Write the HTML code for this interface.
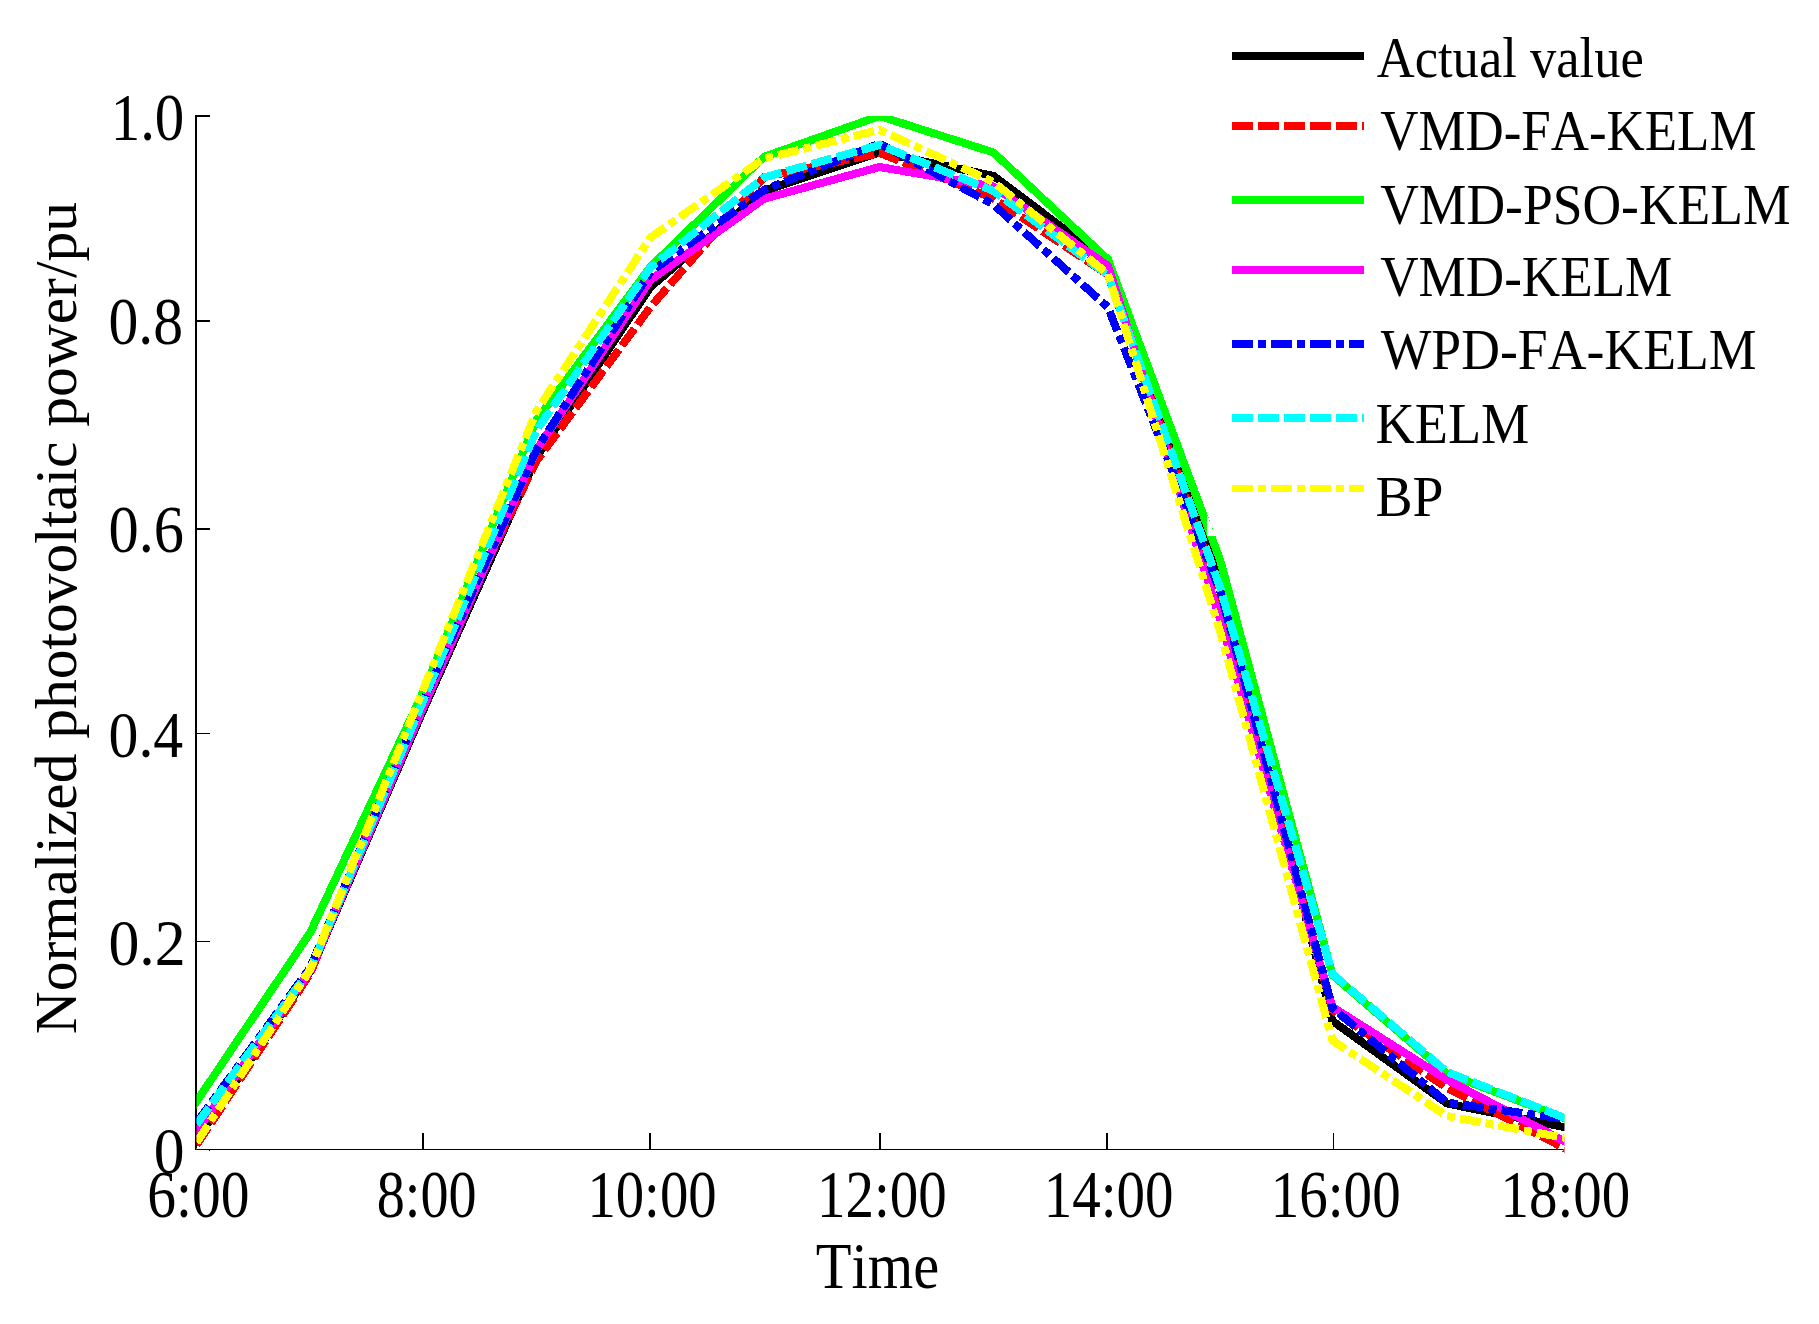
<!DOCTYPE html>
<html lang="en"><head><meta charset="utf-8"><title>Normalized photovoltaic power</title>
<style>html,body{margin:0;padding:0;background:#fff}svg{display:block}text{font-family:"Liberation Serif",serif;fill:#000;font-kerning:none}</style>
</head><body>
<svg width="1819" height="1324" viewBox="0 0 1819 1324">
<rect width="1819" height="1324" fill="#fff"/>
<defs><clipPath id="plotclip"><rect x="196.5" y="116" width="1204" height="1033.5"/><rect x="1400" y="116" width="164.5" height="1040"/></clipPath></defs>
<g shape-rendering="crispEdges" fill="#000">
<rect x="195" y="115" width="2" height="1035"/>
<rect x="195" y="1149" width="1369" height="1"/>
<rect x="197" y="115" width="13" height="2"/>
<rect x="197" y="320" width="13" height="2"/>
<rect x="197" y="528" width="13" height="2"/>
<rect x="197" y="733" width="13" height="1"/>
<rect x="197" y="941" width="13" height="1"/>
<rect x="422" y="1133" width="2" height="16"/>
<rect x="649" y="1133" width="2" height="16"/>
<rect x="879" y="1133" width="2" height="16"/>
<rect x="1106" y="1133" width="2" height="16"/>
<rect x="1333" y="1133" width="1" height="16"/>
<rect x="209" y="1150" width="1" height="1"/>
</g>
<g fill="none" shape-rendering="crispEdges" stroke-linejoin="miter" stroke-miterlimit="10">
<g clip-path="url(#plotclip)">
<polyline points="184.5,1157.8 196.5,1140.0 310.0,972.0 422.7,711.5 536.5,457.0 650.5,287.0 764.0,190.8 879.5,152.3 993.5,175.9 1108.0,262.0 1220.3,585.0 1332.5,1021.0 1447.0,1103.5 1565.0,1127.3 1577.0,1129.7" stroke="#000" stroke-width="8"/>
<polyline points="184.5,1163.1 196.5,1145.0 310.0,974.0 422.7,694.0 536.5,461.0 650.5,307.0 764.0,177.2 879.5,153.0 993.5,198.5 1108.0,275.0 1220.3,596.0 1332.5,1010.0 1447.0,1088.0 1565.0,1148.4 1577.0,1154.5" stroke="#f00" stroke-width="8" stroke-dasharray="21 5" stroke-dashoffset="4.30"/>
<polyline points="184.5,1119.3 196.5,1101.5 310.0,933.0 422.7,693.0 536.5,420.0 650.5,266.8 764.0,156.8 879.5,116.0 993.5,152.5 1108.0,259.5 1220.3,560.5 1332.5,975.0 1447.0,1073.5 1565.0,1118.5 1577.0,1123.1" stroke="#0f0" stroke-width="8"/>
<polygon points="1206.6,513.5 1206.6,536 1215.4,536" fill="#fff" stroke="none"/>
<polyline points="184.5,1148.5 196.5,1131.5 310.0,971.0 422.7,708.5 536.5,450.0 650.5,280.0 764.0,198.8 879.5,167.0 993.5,186.5 1108.0,265.8 1220.3,620.0 1332.5,1007.0 1447.0,1079.7 1565.0,1141.6 1577.0,1147.9" stroke="#f0f" stroke-width="8"/>
<polyline points="184.5,1139.4 196.5,1123.0 310.0,968.0 422.7,702.0 536.5,449.5 650.5,272.0 764.0,190.0 879.5,143.5 993.5,204.6 1108.0,307.3 1220.3,592.0 1332.5,1008.0 1447.0,1102.5 1565.0,1119.0 1577.0,1120.7" stroke="#00f" stroke-width="8" stroke-dasharray="21 5 8 5" stroke-dashoffset="18.69"/>
<polyline points="184.5,1140.8 196.5,1124.5 310.0,970.0 422.7,702.0 536.5,430.0 650.5,267.5 764.0,177.5 879.5,145.0 993.5,191.0 1108.0,275.0 1220.3,588.0 1332.5,974.0 1447.0,1072.0 1565.0,1118.0 1577.0,1122.7" stroke="#0ff" stroke-width="8" stroke-dasharray="21 5" stroke-dashoffset="5.73"/>
<polyline points="184.5,1160.7 196.5,1142.5 310.0,970.0 422.7,690.5 536.5,411.0 650.5,237.4 764.0,158.5 879.5,129.7 993.5,182.0 1108.0,274.0 1220.3,632.0 1332.5,1040.5 1447.0,1116.0 1565.0,1137.9 1577.0,1140.1" stroke="#ff0" stroke-width="8" stroke-dasharray="21 5 8 5" stroke-dashoffset="17.17"/>
</g>
</g>
<g fill="none" shape-rendering="crispEdges">
<line x1="1232" y1="55.9" x2="1364" y2="55.9" stroke="#000" stroke-width="8"/>
<line x1="1232" y1="126" x2="1364" y2="126" stroke="#f00" stroke-width="8" stroke-dasharray="21 5"/>
<line x1="1232" y1="199.9" x2="1364" y2="199.9" stroke="#0f0" stroke-width="8"/>
<line x1="1232" y1="270" x2="1364" y2="270" stroke="#f0f" stroke-width="8"/>
<line x1="1232" y1="344" x2="1364" y2="344" stroke="#00f" stroke-width="8" stroke-dasharray="21 5 8 5"/>
<line x1="1232" y1="418" x2="1364" y2="418" stroke="#0ff" stroke-width="8" stroke-dasharray="21 5"/>
<line x1="1232" y1="488.6" x2="1364" y2="488.6" stroke="#ff0" stroke-width="7" stroke-dasharray="21 5 8 5"/>
</g>
<text font-size="100" transform="matrix(0.5893,0,0,0.6695,110.69,140.21)">1.0</text>
<text font-size="100" transform="matrix(0.5966,0,0,0.6665,108.51,344.21)">0.8</text>
<text font-size="100" transform="matrix(0.6042,0,0,0.6665,108.48,552.21)">0.6</text>
<text font-size="100" transform="matrix(0.5975,0,0,0.6650,108.51,757.11)">0.4</text>
<text font-size="100" transform="matrix(0.6182,0,0,0.6635,108.43,965.12)">0.2</text>
<text font-size="100" transform="matrix(0.6164,0,0,0.6490,153.64,1172.85)">0</text>
<text font-size="100" transform="matrix(0.5752,0,0,0.6680,147.31,1217.31)">6:00</text>
<text font-size="100" transform="matrix(0.5618,0,0,0.6680,376.74,1217.31)">8:00</text>
<text font-size="100" transform="matrix(0.5675,0,0,0.6680,587.38,1217.31)">10:00</text>
<text font-size="100" transform="matrix(0.5698,0,0,0.6680,816.96,1217.31)">12:00</text>
<text font-size="100" transform="matrix(0.5703,0,0,0.6680,1043.66,1217.31)">14:00</text>
<text font-size="100" transform="matrix(0.5703,0,0,0.6680,1270.76,1217.31)">16:00</text>
<text font-size="100" transform="matrix(0.5693,0,0,0.6680,1500.57,1217.31)">18:00</text>
<text font-size="100" transform="matrix(0.5845,0,0,0.6518,815.83,1287.90)">Time</text>
<text font-size="100" transform="matrix(0.5259,0,0,0.5772,1376.67,76.80)">Actual value</text>
<text font-size="100" transform="matrix(0.5293,0,0,0.5772,1380.17,150.00)">VMD-FA-KELM</text>
<text font-size="100" transform="matrix(0.5354,0,0,0.5802,1380.16,223.90)">VMD-PSO-KELM</text>
<text font-size="100" transform="matrix(0.5315,0,0,0.5756,1380.17,295.50)">VMD-KELM</text>
<text font-size="100" transform="matrix(0.5369,0,0,0.5772,1380.70,369.20)">WPD-FA-KELM</text>
<text font-size="100" transform="matrix(0.5430,0,0,0.5680,1375.57,442.60)">KELM</text>
<text font-size="100" transform="matrix(0.5558,0,0,0.5650,1375.53,516.30)">BP</text>
<text font-size="100" transform="matrix(0,-0.5946,0.5848,0,76.30,1034.28)">Normalized photovoltaic power/pu</text>
</svg>
</body></html>
